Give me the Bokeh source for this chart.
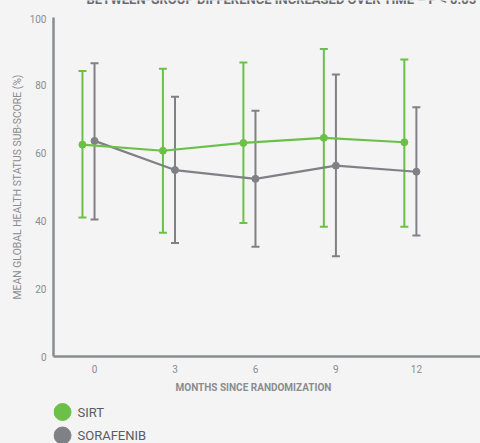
from bokeh.plotting import figure
from bokeh.layouts import column
from bokeh.models import (ColumnDataSource, Whisker, TeeHead, FixedTicker, Range1d, Title)
from bokeh.core.properties import value
from bokeh.embed import file_html
from bokeh.resources import INLINE

# Mean global health status sub-score (%) with error bars, by month
months = [0, 3, 6, 9, 12]
sirt_mean = [62.5, 60.7, 63.0, 64.5, 63.2]
sirt_upper = [84.2, 84.9, 86.7, 90.7, 87.6]
sirt_lower = [41.0, 36.5, 39.4, 38.3, 38.3]
sora_mean = [63.6, 55.0, 52.4, 56.3, 54.5]
sora_upper = [86.5, 76.6, 72.5, 83.2, 73.5]
sora_lower = [40.4, 33.5, 32.4, 29.6, 35.7]
series_names = ["SIRT", "SORAFENIB"]
x_ticks = [0, 3, 6, 9, 12]
y_ticks = [0, 20, 40, 60, 80, 100]
note_text = "BETWEEN-GROUP DIFFERENCE INCREASED OVER TIME \u2013 P < 0.05"

GREEN = "#6cc04a"
GREY = "#808186"
AXIS = "#8b8c91"
BG = "#f4f4f4"
FONT = "Roboto"

sirt_offset = -0.45  # SIRT markers sit just left of each month

sirt_src = ColumnDataSource(dict(x=[m + sirt_offset for m in months], mean=sirt_mean,
                                 upper=sirt_upper, lower=sirt_lower))
sora_src = ColumnDataSource(dict(x=months, mean=sora_mean, upper=sora_upper, lower=sora_lower))


def strip(height, border_left=53):
    f = figure(width=480, height=height, output_backend="svg", toolbar_location=None,
               x_range=Range1d(53, 480), y_range=Range1d(0, height),
               min_border=0, min_border_left=border_left, x_axis_type=None, y_axis_type=None)
    f.background_fill_color = BG
    f.border_fill_color = BG
    f.outline_line_color = None
    f.grid.visible = False
    return f


# header note strip: the line of text runs off the top of the page
hdr = strip(14)
hdr.text(x=[86], y=[14.8], text=[note_text], text_font=value(FONT), text_font_size="13px",
         text_font_style="bold", text_color="#6a6b70", text_baseline="alphabetic",
         text_align="left")

p = figure(width=480, height=385, output_backend="svg", toolbar_location=None,
           x_range=Range1d(-1.53, 14.39), y_range=Range1d(0, 100),
           min_border_left=53, min_border_right=0, min_border_top=3, min_border_bottom=43)
p.background_fill_color = BG
p.border_fill_color = BG
p.outline_line_color = None
p.grid.visible = False

for ax in (p.xaxis[0], p.yaxis[0]):
    ax.axis_line_color = AXIS
    ax.axis_line_width = 2.5
    ax.major_tick_line_color = None
    ax.minor_tick_line_color = None
    ax.major_tick_out = 0
    ax.major_tick_in = 0
    ax.major_label_text_font = FONT
    ax.major_label_text_font_size = "10px"
    ax.major_label_text_color = AXIS
    ax.axis_label_text_font = FONT
    ax.axis_label_text_color = AXIS
    ax.axis_label_text_font_style = "normal"

p.xaxis.ticker = FixedTicker(ticks=x_ticks)
p.yaxis.ticker = FixedTicker(ticks=y_ticks)
p.yaxis.axis_label = "MEAN GLOBAL HEALTH STATUS SUB-SCORE (%)"
p.yaxis.axis_label_text_font_size = "10.4px"
p.xaxis.major_label_standoff = 8
p.yaxis.major_label_standoff = 7
p.yaxis.axis_label_standoff = 3

# x-axis title, set under the plotted months
xtitle = Title(text="MONTHS SINCE RANDOMIZATION", align="left", offset=122, standoff=9,
               text_font=FONT, text_font_size="10px", text_font_style="bold",
               text_color=AXIS)
p.add_layout(xtitle, "below")

# error bars
for src, col in ((sora_src, GREY), (sirt_src, GREEN)):
    w = Whisker(source=src, base="x", upper="upper", lower="lower",
                line_color=col, line_width=2,
                upper_head=TeeHead(size=8, line_color=col, line_width=2),
                lower_head=TeeHead(size=8, line_color=col, line_width=2))
    p.add_layout(w)

# mean lines and markers
p.line("x", "mean", source=sora_src, line_color=GREY, line_width=2.2)
p.scatter("x", "mean", source=sora_src, size=7, fill_color=GREY, line_color=GREY)
p.line("x", "mean", source=sirt_src, line_color=GREEN, line_width=2.2)
p.scatter("x", "mean", source=sirt_src, size=7, fill_color=GREEN, line_color=GREEN)

# legend strip (its frame lines up with the main frame, which starts at x=53)
lg = strip(44)
leg_src = ColumnDataSource(dict(x=[62, 62], y=[31.5, 8], name=series_names, color=[GREEN, GREY],
                                tx=[77, 77]))
lg.scatter("x", "y", source=leg_src, size=17, fill_color="color", line_color="color")
lg.text("tx", "y", text="name", source=leg_src, text_font=value(FONT), text_font_size="13px",
        text_color="#5a5b5f", text_baseline="middle", text_align="left")

layout = column(hdr, p, lg, spacing=0)
layout.background = BG

open("out.html", "w").write(file_html(layout, INLINE))
